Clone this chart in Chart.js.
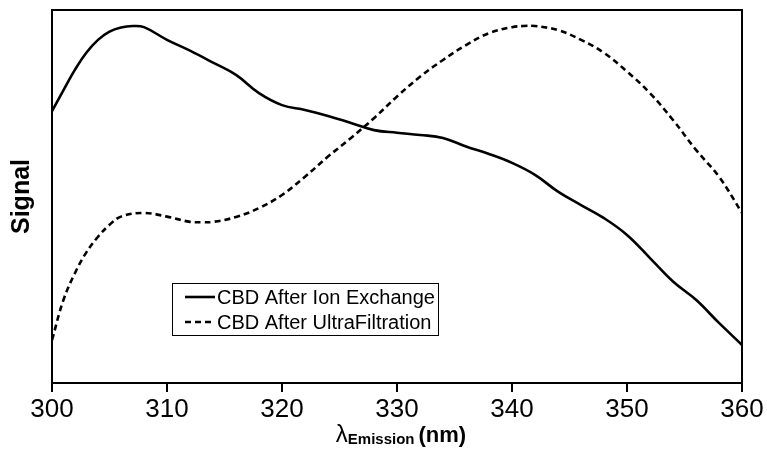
<!DOCTYPE html>
<html>
<head>
<meta charset="utf-8">
<script src="https://cdn.jsdelivr.net/npm/chart.js@4/dist/chart.umd.min.js"></script>
<style>
html,body{margin:0;padding:0;background:#fff;}
#wrap{width:767px;height:451px;position:relative;}
</style>
</head>
<body>
<div id="wrap"><canvas id="c" width="767" height="451"></canvas></div>
<script>
// Data (arbitrary signal units, 0-100)
const wavelengthIonExchange = [300,301,302,303,304,305,306,307,308,310,312,314,316,318,320,322,324,326,328,330,332,334,336,338,340,342,344,346,348,350,352,354,356,358,360];
const signalIonExchange =     [72.9,78.5,84.0,88.6,92.0,94.2,95.3,95.7,95.4,92.0,89.1,85.9,82.6,77.7,74.5,73.2,71.6,69.7,67.8,67.1,66.5,65.7,63.4,61.4,59.0,55.8,51.3,47.7,44.2,39.7,33.5,27.2,22.3,16.1,10.2];

const wavelengthUltraFiltration = [300,301,302,303,304,305,306,308,310,312,313,314,316,318,320,322,324,326,328,330,332,334,336,338,340,341,342,344,346,348,350,352,354,356,358,360];
const signalUltraFiltration =     [11.5,22.3,29.5,35.1,39.2,42.4,44.6,45.6,44.6,43.2,43.1,43.2,44.5,46.9,50.4,55.3,60.7,65.7,71.0,76.8,82.1,86.6,90.6,93.8,95.4,95.7,95.7,94.6,92.0,88.5,83.5,77.7,70.5,62.5,55.3,45.6];

const seriesLabels = ["CBD After Ion Exchange", "CBD After UltraFiltration"];
const xTicks = [300,310,320,330,340,350,360];
const yAxisTitle = "Signal";
const xAxisTitleMain = "\u03BB";
const xAxisTitleSub = "Emission";
const xAxisTitleUnit = "(nm)";

const FONT = "'Liberation Sans', Arial, Helvetica, sans-serif";
const DASH = [6,4];

function toPoints(xs, ys){ return xs.map((x,i)=>({x:x, y:ys[i]})); }

const decorPlugin = {
  id: 'decor',
  afterDraw(chart){
    const ctx = chart.ctx, a = chart.chartArea;
    ctx.save();
    // frame
    ctx.strokeStyle = '#000';
    ctx.lineWidth = 2;
    ctx.strokeRect(a.left, a.top, a.right - a.left, a.bottom - a.top);

    // y title
    ctx.fillStyle = '#000';
    ctx.save();
    ctx.translate(22, (a.top + a.bottom)/2);
    ctx.rotate(-Math.PI/2);
    ctx.font = "bold 25px " + FONT;
    ctx.textAlign = 'center';
    ctx.textBaseline = 'middle';
    ctx.fillText(yAxisTitle, 0, 0);
    ctx.restore();

    // x title: lambda with subscript
    ctx.textBaseline = 'alphabetic';
    ctx.textAlign = 'left';
    ctx.font = "24px " + FONT;
    const w1 = ctx.measureText(xAxisTitleMain).width;
    ctx.font = "bold 15px " + FONT;
    const w2 = ctx.measureText(xAxisTitleSub).width;
    ctx.font = "bold 22px " + FONT;
    const w3 = ctx.measureText(xAxisTitleUnit).width;
    const gap = 4;
    const total = w1 + w2 + gap + w3;
    let x0 = 401 - total/2;
    const base = 442;
    ctx.font = "24px " + FONT;
    ctx.fillText(xAxisTitleMain, x0, base);
    ctx.font = "bold 15px " + FONT;
    ctx.fillText(xAxisTitleSub, x0 + w1, base + 2);
    ctx.font = "bold 22px " + FONT;
    ctx.fillText(xAxisTitleUnit, x0 + w1 + w2 + gap, base);

    // legend
    const lx = 172, ly = 283, lw = 266, lh = 52;
    ctx.fillStyle = '#fff';
    ctx.fillRect(lx, ly, lw, lh);
    ctx.strokeStyle = '#000';
    ctx.lineWidth = 1;
    ctx.strokeRect(lx + 0.5, ly + 0.5, lw, lh);
    const rows = [ly + 14, ly + 39];
    chart.data.datasets.forEach((ds, i) => {
      const y = rows[i];
      ctx.strokeStyle = '#000';
      ctx.lineWidth = 2.6;
      ctx.setLineDash(ds.borderDash || []);
      ctx.beginPath();
      ctx.moveTo(185, y);
      ctx.lineTo(215, y);
      ctx.stroke();
      ctx.setLineDash([]);
      ctx.fillStyle = '#000';
      ctx.font = "20px " + FONT;
      ctx.textBaseline = 'middle';
      ctx.textAlign = 'left';
      ctx.fillText(ds.label, 217, y + 1);
    });
    ctx.restore();
  }
};

new Chart(document.getElementById('c'), {
  type: 'line',
  data: {
    datasets: [
      {
        label: seriesLabels[0],
        data: toPoints(wavelengthIonExchange, signalIonExchange),
        borderColor: '#000',
        borderWidth: 2.6,
        pointRadius: 0,
        fill: false,
        tension: 0.4
      },
      {
        label: seriesLabels[1],
        data: toPoints(wavelengthUltraFiltration, signalUltraFiltration),
        borderColor: '#000',
        borderWidth: 2.6,
        borderDash: DASH,
        pointRadius: 0,
        fill: false,
        tension: 0.4
      }
    ]
  },
  options: {
    responsive: false,
    animation: false,
    layout: { padding: { top: 10, right: 25, left: 0, bottom: 0 } },
    plugins: { legend: { display: false }, tooltip: { enabled: false }, title: { display: false } },
    scales: {
      x: {
        type: 'linear',
        min: 300, max: 360,
        afterBuildTicks: (s) => { s.ticks = xTicks.map(v => ({ value: v })); },
        afterFit: (s) => { s.height = 68; },
        ticks: { color: '#000', font: { family: FONT, size: 26 }, padding: 2, maxRotation: 0 },
        grid: { display: true, drawOnChartArea: false, drawTicks: true, tickLength: 9, color: '#000', lineWidth: 2 },
        border: { display: false }
      },
      y: {
        min: 0, max: 100,
        afterFit: (s) => { s.width = 52; },
        ticks: { display: false },
        grid: { display: false },
        border: { display: false }
      }
    }
  },
  plugins: [decorPlugin]
});
</script>
</body>
</html>
